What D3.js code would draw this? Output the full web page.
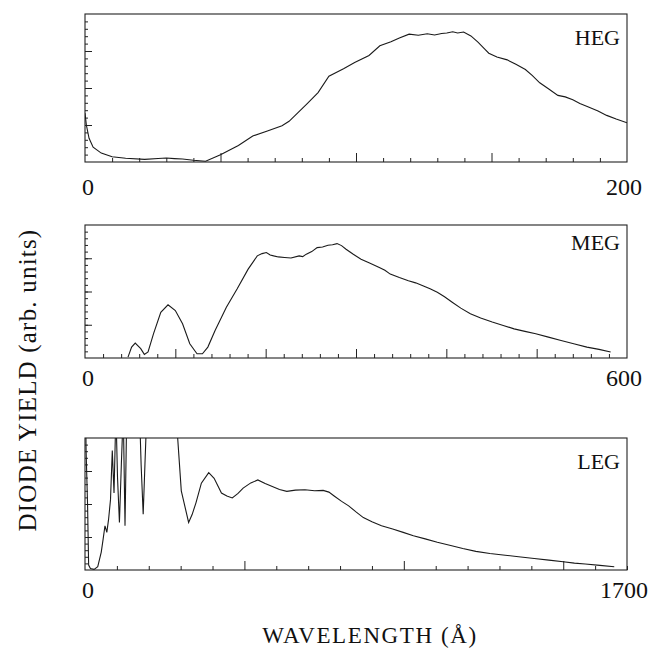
<!DOCTYPE html>
<html>
<head>
<meta charset="utf-8">
<script src="https://cdn.jsdelivr.net/npm/d3@7"></script>
<style>
  body { margin: 0; background: #fff; }
  text { font-family: "Liberation Serif", "DejaVu Serif", serif; fill: #111; }
</style>
</head>
<body>
<div id="chart"></div>
<script>
// spectra (yield normalised to panel height)
const hegWave  = [0, 0.5, 1.5, 3, 6, 10, 15, 22, 27, 30, 33, 36, 40, 44.5, 50, 56.6, 61.9, 67.3, 72.7, 75.3, 82, 86, 90, 95.4, 99.5, 104.8, 108.8, 112.9, 116, 119.6, 123, 126.3, 129, 131.6, 133.5, 135.7, 137.5, 139.7, 142.4, 145, 147.7, 149, 152, 155.8, 159, 162.5, 165, 167.8, 171, 174.5, 177.2, 180, 182.6, 186, 189.3, 192.5, 196, 200];
const hegYield = [0.33, 0.25, 0.16, 0.10, 0.06, 0.035, 0.025, 0.018, 0.024, 0.027, 0.023, 0.02, 0.012, 0.005, 0.049, 0.111, 0.175, 0.21, 0.245, 0.275, 0.395, 0.469, 0.58, 0.63, 0.672, 0.72, 0.785, 0.812, 0.838, 0.864, 0.856, 0.866, 0.858, 0.868, 0.872, 0.88, 0.872, 0.878, 0.852, 0.81, 0.76, 0.735, 0.71, 0.69, 0.66, 0.625, 0.585, 0.535, 0.495, 0.45, 0.44, 0.42, 0.395, 0.37, 0.345, 0.315, 0.29, 0.265];

const megWave  = [47.6, 51.6, 55.6, 61.7, 65.7, 69.8, 75.8, 83.9, 91.9, 100, 108, 116, 124, 130, 136, 144, 156.5, 168.5, 180.6, 190.7, 196, 200.8, 205, 208.9, 214, 221, 228, 237, 241, 245, 251, 257, 263, 269, 274, 279, 284, 289, 297, 305.6, 315, 325.8, 332, 337.9, 348, 358, 366, 374, 382, 390, 398, 406.5, 416, 426.6, 438, 450.8, 463, 475, 487, 499, 513, 527, 541, 555.6, 569, 581.9];
const megYield = [0.007, 0.082, 0.112, 0.07, 0.027, 0.045, 0.182, 0.344, 0.40, 0.357, 0.257, 0.107, 0.032, 0.032, 0.082, 0.207, 0.382, 0.52, 0.668, 0.768, 0.785, 0.793, 0.775, 0.768, 0.76, 0.756, 0.752, 0.768, 0.762, 0.781, 0.80, 0.83, 0.835, 0.848, 0.852, 0.860, 0.845, 0.818, 0.78, 0.743, 0.715, 0.681, 0.66, 0.631, 0.605, 0.581, 0.565, 0.544, 0.52, 0.494, 0.46, 0.419, 0.375, 0.332, 0.30, 0.27, 0.245, 0.219, 0.20, 0.182, 0.157, 0.132, 0.107, 0.082, 0.065, 0.045];

const legWave  = [2, 3.4, 8, 11.4, 17, 28.5, 40, 51, 57, 62.7, 68.5, 74, 80, 85.6, 91, 97, 102, 108, 114, 120, 125.5, 131, 150, 171, 176, 182.5, 188, 194, 240, 285, 302, 325, 336, 348, 365, 388, 405, 428, 445, 462, 480, 496, 520, 542, 565, 587.5, 610, 633, 660, 690, 720, 747, 765, 781.5, 805, 827, 850, 873, 900, 930, 965, 998, 1030, 1067, 1105, 1147, 1185, 1226, 1270, 1318, 1360, 1409, 1455, 1500, 1535, 1569, 1615, 1660];
const legYield = [1.2, 0.906, 0.5, 0.037, 0.012, 0.005, 0.025, 0.136, 0.236, 0.335, 0.285, 0.385, 0.533, 0.906, 0.583, 1.2, 0.7, 0.36, 0.8, 1.2, 0.335, 1.2, 1.3, 1.2, 0.8, 0.422, 0.8, 1.2, 1.4, 1.2, 0.6, 0.36, 0.42, 0.509, 0.658, 0.737, 0.695, 0.583, 0.56, 0.546, 0.58, 0.62, 0.66, 0.682, 0.655, 0.633, 0.61, 0.596, 0.605, 0.608, 0.60, 0.603, 0.59, 0.561, 0.52, 0.486, 0.44, 0.397, 0.365, 0.335, 0.31, 0.285, 0.26, 0.236, 0.21, 0.186, 0.163, 0.141, 0.125, 0.112, 0.10, 0.087, 0.075, 0.062, 0.052, 0.045, 0.035, 0.025];

const panelNames = ['HEG', 'MEG', 'LEG'];
const waveMax = [200, 600, 1700];
const majorStep = [50, 100, 500];
const minorStep = [10, 20, 100];
const yMajor = [0.25, 0.5, 0.75];
const yMinor = d3.range(0.05, 1, 0.05);

const W = 661, H = 659;
const left = 85, right = 627;
const frames = [[14, 162], [225, 358], [438, 570]];
const nameDy = [31, 25, 31];
const labelDy = [33, 28, 28];

const svg = d3.select('#chart').append('svg').attr('width', W).attr('height', H);

const series = [
  { wave: hegWave, yld: hegYield },
  { wave: megWave, yld: megYield },
  { wave: legWave, yld: legYield }
];

series.forEach((s, i) => {
  const [top, bottom] = frames[i];
  const x = d3.scaleLinear().domain([0, waveMax[i]]).range([left, right]);
  const y = d3.scaleLinear().domain([0, 1]).range([bottom, top]);
  const g = svg.append('g');

  g.append('clipPath').attr('id', 'clip' + i)
    .append('rect').attr('x', left).attr('y', top).attr('width', right - left).attr('height', bottom - top);

  // x ticks, pointing up from the bottom edge
  const minorX = d3.range(0, waveMax[i] + 1, minorStep[i]).filter(v => v % majorStep[i] !== 0);
  const majorX = d3.range(majorStep[i], waveMax[i], majorStep[i]);
  g.append('g').attr('transform', `translate(0,${bottom})`)
    .call(d3.axisBottom(x).tickValues(minorX).tickSize(-4).tickFormat(''))
    .call(a => a.select('.domain').remove());
  g.append('g').attr('transform', `translate(0,${bottom})`)
    .call(d3.axisBottom(x).tickValues(majorX).tickSize(-9).tickFormat(''))
    .call(a => a.select('.domain').remove());

  // y ticks, pointing right from the left edge
  g.append('g').attr('transform', `translate(${left},0)`)
    .call(d3.axisLeft(y).tickValues(yMinor).tickSize(-3).tickFormat(''))
    .call(a => a.select('.domain').remove());
  g.append('g').attr('transform', `translate(${left},0)`)
    .call(d3.axisLeft(y).tickValues(yMajor).tickSize(-7).tickFormat(''))
    .call(a => a.select('.domain').remove());

  g.selectAll('.tick line').attr('stroke', '#222').attr('stroke-width', 1);

  g.append('rect')
    .attr('x', left).attr('y', top)
    .attr('width', right - left).attr('height', bottom - top)
    .attr('fill', 'none').attr('stroke', '#222').attr('stroke-width', 1.1);

  const line = d3.line().x((d, k) => x(s.wave[k])).y(d => y(d));
  g.append('path')
    .datum(s.yld)
    .attr('clip-path', `url(#clip${i})`)
    .attr('d', line)
    .attr('fill', 'none')
    .attr('stroke', '#1a1a1a')
    .attr('stroke-width', 1.1);

  g.append('text')
    .attr('x', right - 7).attr('y', top + nameDy[i])
    .attr('text-anchor', 'end').attr('font-size', 22)
    .text(panelNames[i]);

  g.append('text')
    .attr('x', x(0) + 3).attr('y', bottom + labelDy[i])
    .attr('text-anchor', 'middle').attr('font-size', 24)
    .text('0');
  g.append('text')
    .attr('x', x(waveMax[i]) - 3).attr('y', bottom + labelDy[i])
    .attr('text-anchor', 'middle').attr('font-size', 24)
    .text(waveMax[i]);
});

svg.append('text')
  .attr('transform', 'translate(36,380) rotate(-90)')
  .attr('text-anchor', 'middle').attr('font-size', 25)
  .attr('letter-spacing', 1.2)
  .text('DIODE YIELD (arb. units)');

svg.append('text')
  .attr('x', 370).attr('y', 643)
  .attr('text-anchor', 'middle').attr('font-size', 23)
  .attr('letter-spacing', 1.6)
  .text('WAVELENGTH (Å)');
</script>
</body>
</html>
